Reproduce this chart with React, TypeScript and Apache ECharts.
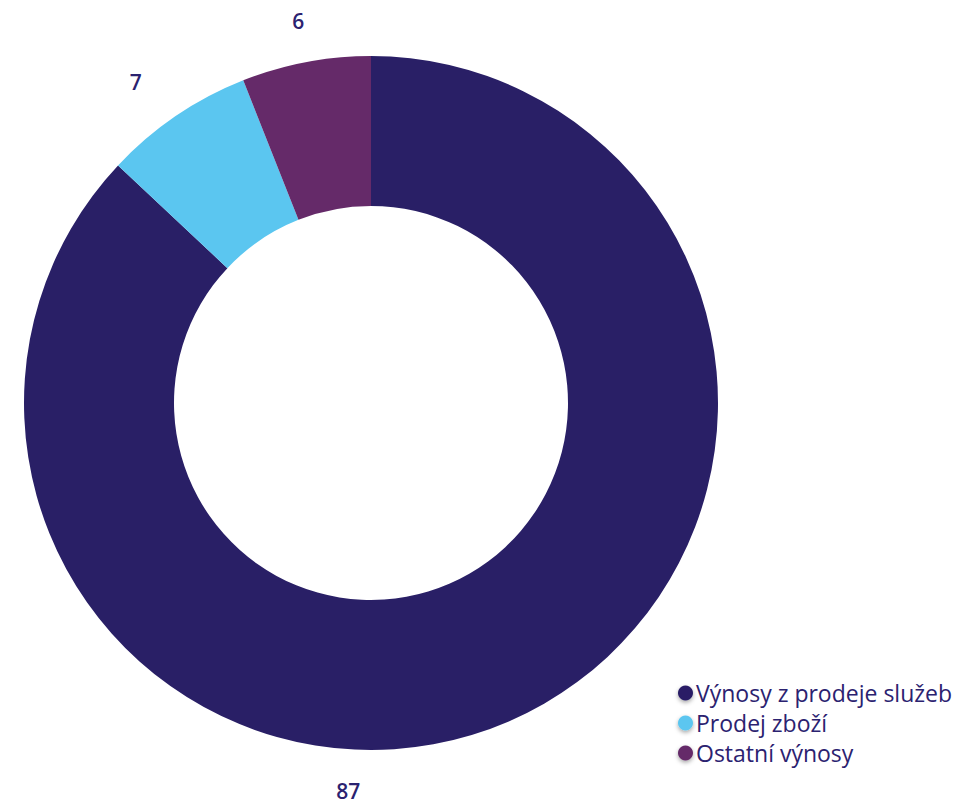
import React, { useEffect, useRef } from "react";
import * as echarts from "echarts";

const categories = ["Výnosy z prodeje služeb", "Prodej zboží", "Ostatní výnosy"];
const values = [87, 7, 6];
const colors = ["#291f66", "#5bc6f0", "#652a69"];

const TEXT_COLOR = "#2b2270";
const FONT = "'Segoe UI', 'Open Sans', 'Noto Sans', sans-serif";

export default function App() {
  const ref = useRef<HTMLDivElement>(null);
  useEffect(() => {
    if (!ref.current) return;
    const chart = echarts.init(ref.current, undefined, { renderer: "svg" });
    const data = categories.map((name, i) => ({
      name,
      value: values[i],
      itemStyle: { color: colors[i] },
    }));
    chart.setOption({
      animation: false,
      legend: {
        orient: "vertical",
        left: 673,
        top: 676,
        icon: "circle",
        itemWidth: 15,
        itemHeight: 15,
        itemGap: 6,
        data: categories,
        itemStyle: {
          shadowBlur: 4,
          shadowColor: "rgba(0,0,0,0.35)",
          shadowOffsetY: 2,
        },
        textStyle: {
          color: TEXT_COLOR,
          fontSize: 23,
          fontFamily: FONT,
          lineHeight: 24,
          padding: [0, 0, 0, -2],
        },
      },
      series: [
        {
          type: "pie",
          name: "main",
          center: [371, 403],
          radius: [197, 347],
          startAngle: 90,
          clockwise: true,
          avoidLabelOverlap: false,
          label: { show: false },
          labelLine: { show: false },
          emphasis: { disabled: true },
          data,
        },
        {
          type: "pie",
          name: "labels",
          center: [371, 403],
          radius: [345, 426],
          startAngle: 90,
          clockwise: true,
          silent: true,
          avoidLabelOverlap: false,
          itemStyle: { color: "rgba(0,0,0,0)" },
          label: {
            show: true,
            position: "inside",
            formatter: "{c}",
            color: TEXT_COLOR,
            fontSize: 21,
            fontWeight: 600,
            fontFamily: FONT,
          },
          labelLine: { show: false },
          labelLayout: (params: any) => {
            if (params.dataIndex === 0) return { dx: -177, dy: 31 };
            if (params.dataIndex === 1) return { dx: -17, dy: 0 };
            return {};
          },
          data: categories.map((name, i) => ({
            name,
            value: values[i],
            itemStyle: { color: "rgba(0,0,0,0)" },
          })),
        },
      ],
    });
    return () => chart.dispose();
  }, []);
  return (
    <div
      ref={ref}
      style={{ position: "fixed", left: 0, top: 0, width: 957, height: 805, background: "#fff" }}
    />
  );
}
